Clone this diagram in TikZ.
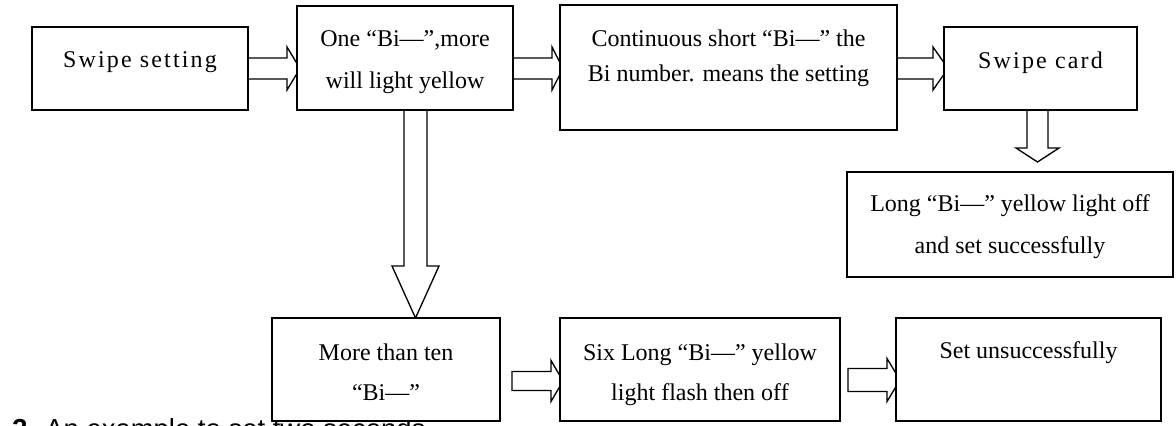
\documentclass[tikz,border=0pt]{standalone}
\usepackage{fontspec}
\setmainfont{Liberation Serif}
\newfontfamily\widefont[LetterSpace=9]{Liberation Serif}
\newfontfamily\capfont{Liberation Sans}
\usetikzlibrary{calc}
% horizontal block arrow: start, tip, shaft half width, head half width, head length
\newcommand{\harr}[5]{\draw[blk] ($(#1)+(0,#3)$) -- ($(#2)+(-#5,#3)$) -- ($(#2)+(-#5,#4)$) -- (#2) -- ($(#2)+(-#5,-#4)$) -- ($(#2)+(-#5,-#3)$) -- ($(#1)+(0,-#3)$) -- cycle;}
% vertical (downward) block arrow
\newcommand{\varr}[5]{\draw[blk] ($(#1)+(-#3,0)$) -- ($(#2)+(-#3,-#5)$) -- ($(#2)+(-#4,-#5)$) -- (#2) -- ($(#2)+(#4,-#5)$) -- ($(#2)+(#3,-#5)$) -- ($(#1)+(#3,0)$) -- cycle;}
\begin{document}
\begin{tikzpicture}[x=0.75pt,y=-0.75pt,
  box/.style={draw,rectangle,line width=1.2pt,fill=white,inner sep=0pt},
  txt/.style={inner sep=0pt,anchor=base,font=\fontsize{18pt}{20pt}\selectfont},
  wtxt/.style={inner sep=0pt,anchor=base,font=\widefont\fontsize{18pt}{20pt}\selectfont},
  blk/.style={draw,line width=1pt,fill=white,line join=miter}]
\useasboundingbox (0,0) rectangle (1176,425);
\clip (0,0) rectangle (1176,425);

% caption (mostly hidden below)
\node[inner sep=0pt,anchor=base west,font=\capfont\fontsize{20.6pt}{22pt}\selectfont] (cap) at (12,438) {\textbf{3.} An example to set two seconds};

% box positions (centres) as coordinates
\coordinate (c1) at (140,68.5);
\coordinate (c2) at (405,58);
\coordinate (c3) at (728.5,67.5);
\coordinate (c4) at (1040.5,68.5);
\coordinate (c5) at (1010,224.5);
\coordinate (c6) at (386,369.5);
\coordinate (c7) at (700,369.5);
\coordinate (c8) at (1028.5,369.5);

% arrow end points
\coordinate (a1s) at (248,68.5);   \coordinate (a1t) at (300,68.5);
\coordinate (a2s) at (513,68.5);   \coordinate (a2t) at (563,68.5);
\coordinate (a3s) at (897,68.5);   \coordinate (a3t) at (948,68.5);
\coordinate (a4s) at (1037.5,110); \coordinate (a4t) at (1037.5,162);
\coordinate (a5s) at (415.5,110);  \coordinate (a5t) at (415.5,318);
\coordinate (a6s) at (512,381);    \coordinate (a6t) at (563,381);
\coordinate (a7s) at (848,380);    \coordinate (a7t) at (900,380);

\harr{a1s}{a1t}{10.5}{21.5}{13}
\harr{a2s}{a2t}{10.5}{21.5}{11}
\harr{a3s}{a3t}{10.5}{21.5}{15}
\varr{a4s}{a4t}{10.5}{21.5}{14}
\varr{a5s}{a5t}{11.5}{23.5}{52}
\harr{a6s}{a6t}{9.5}{20.5}{12}
\harr{a7s}{a7t}{11.5}{21.5}{13}

% boxes
\node[box,minimum width=216*0.75pt,minimum height=83*0.75pt]  (b1) at (c1) {};
\node[box,minimum width=216*0.75pt,minimum height=104*0.75pt] (b2) at (c2) {};
\node[box,minimum width=337*0.75pt,minimum height=125*0.75pt] (b3) at (c3) {};
\node[box,minimum width=193*0.75pt,minimum height=83*0.75pt]  (b4) at (c4) {};
\node[box,minimum width=326*0.75pt,minimum height=105*0.75pt] (b5) at (c5) {};
\node[box,minimum width=228*0.75pt,minimum height=103*0.75pt] (b6) at (c6) {};
\node[box,minimum width=280*0.75pt,minimum height=103*0.75pt] (b7) at (c7) {};
\node[box,minimum width=265*0.75pt,minimum height=103*0.75pt] (b8) at (c8) {};

% texts
\node[wtxt] (t1) at (140,67) {Swipe setting};
\node[txt] (t2a) at (405,46) {One “Bi—”,more};
\node[txt] (t2b) at (405,88) {will light yellow};
\node[txt] (t3a) at (728.5,46) {Continuous short “Bi—” the};
\node[txt] (t3b) at (728.5,81) {Bi number. means the setting};
\node[wtxt] (t4) at (1040.5,68) {Swipe card};
\node[txt] (t5a) at (1010,211) {Long “Bi—” yellow light off};
\node[txt] (t5b) at (1010,253) {and set successfully};
\node[txt] (t6a) at (386,360) {More than ten};
\node[txt] (t6b) at (386,400) {“Bi—”};
\node[txt] (t7a) at (700,360) {Six Long “Bi—” yellow};
\node[txt] (t7b) at (700,400) {light flash then off};
\node[txt] (t8) at (1028.5,358) {Set unsuccessfully};
\end{tikzpicture}
\end{document}
